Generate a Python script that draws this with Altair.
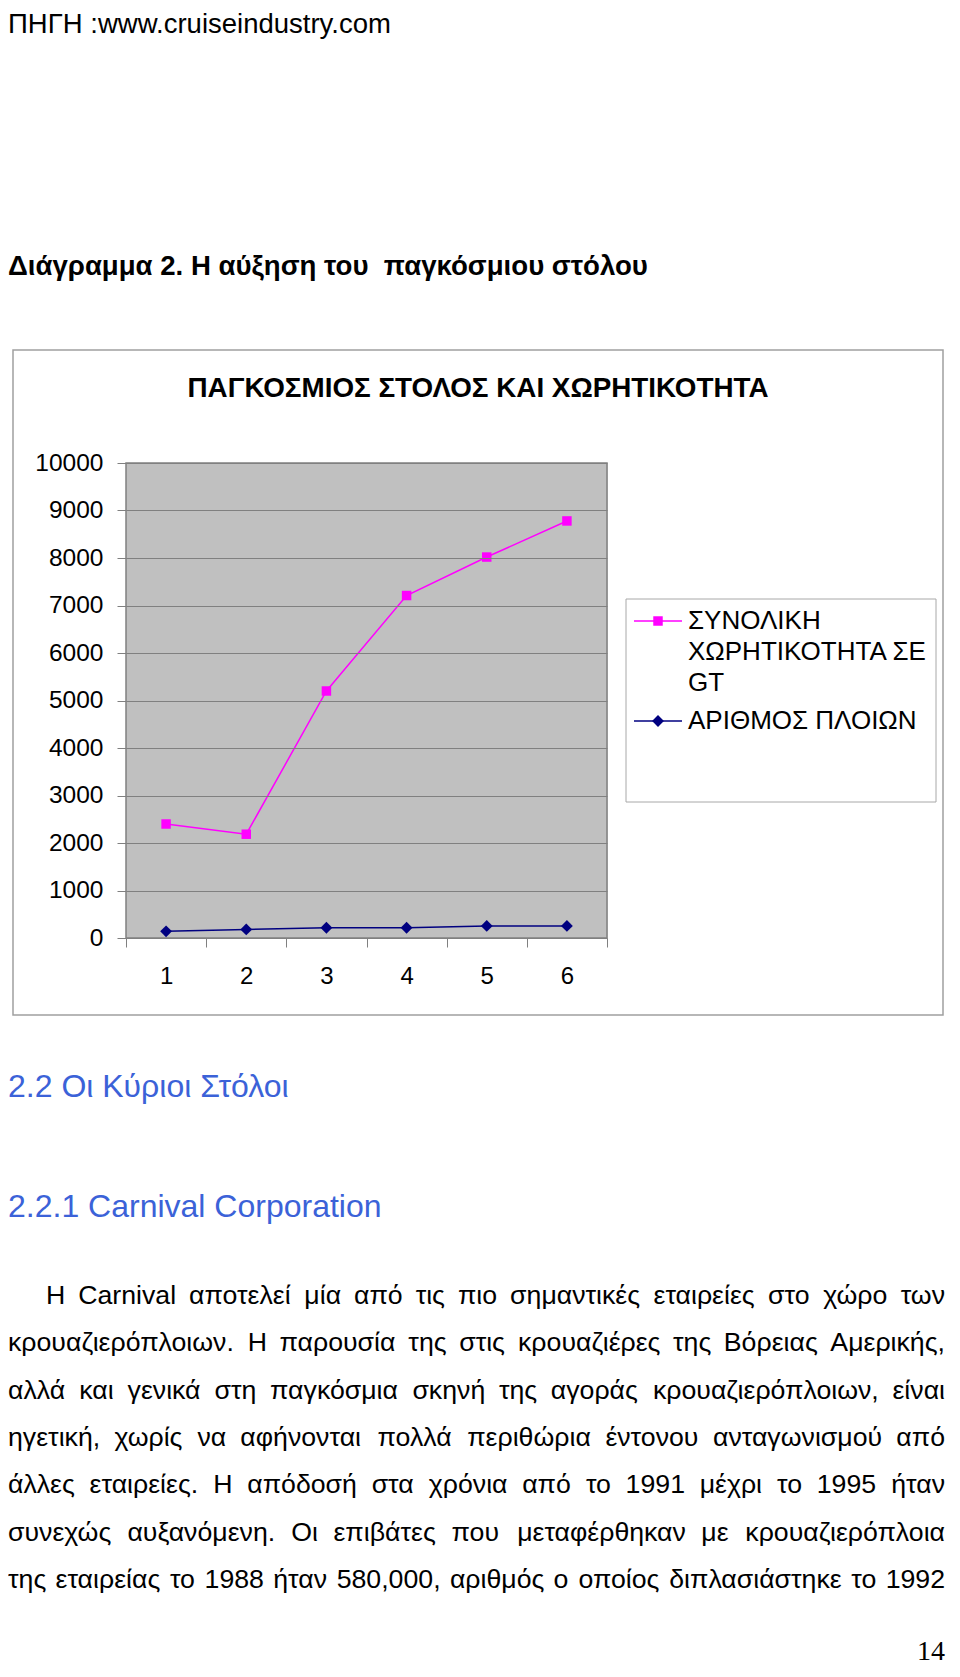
import altair as alt
import pandas as pd

# ---------------- data ----------------
categories = [1, 2, 3, 4, 5, 6]
tonnage_gt = [2400, 2185, 5200, 7210, 8020, 8780]
ship_count = [140, 180, 215, 215, 255, 255]
series_names = ["ΣΥΝΟΛΙΚΗ ΧΩΡΗΤΙΚΟΤΗΤΑ ΣΕ GT", "ΑΡΙΘΜΟΣ ΠΛΟΙΩΝ"]
legend_label_lines = [["ΣΥΝΟΛΙΚΗ", "ΧΩΡΗΤΙΚΟΤΗΤΑ ΣΕ", "GT"], ["ΑΡΙΘΜΟΣ ΠΛΟΙΩΝ"]]
y_ticks = [0, 1000, 2000, 3000, 4000, 5000, 6000, 7000, 8000, 9000, 10000]

chart_title = "ΠΑΓΚΟΣΜΙΟΣ ΣΤΟΛΟΣ ΚΑΙ ΧΩΡΗΤΙΚΟΤΗΤΑ"
source_line = "ΠΗΓΗ :www.cruiseindustry.com"
figure_caption = "Διάγραμμα 2. Η αύξηση του\u00a0 παγκόσμιου στόλου"
heading_1 = "2.2 Οι Κύριοι Στόλοι"
heading_2 = "2.2.1 Carnival Corporation"
body_lines = [
    "Η Carnival αποτελεί μία από τις πιο σημαντικές εταιρείες στο χώρο των",
    "κρουαζιερόπλοιων. Η παρουσία της στις κρουαζιέρες της Βόρειας Αμερικής,",
    "αλλά και γενικά στη παγκόσμια σκηνή της αγοράς κρουαζιερόπλοιων, είναι",
    "ηγετική, χωρίς να αφήνονται πολλά περιθώρια έντονου ανταγωνισμού από",
    "άλλες εταιρείες. Η απόδοσή στα χρόνια από το 1991 μέχρι το 1995 ήταν",
    "συνεχώς αυξανόμενη. Οι επιβάτες που μεταφέρθηκαν με κρουαζιερόπλοια",
    "της εταιρείας το 1988 ήταν 580,000, αριθμός ο οποίος διπλασιάστηκε το 1992",
]
page_number = "14"

# ---------------- styles / layout ----------------
series_colors = ["#FF00FF", "#000080"]
series_shapes = ["square", "diamond"]
series_sizes = [90, 140]
FONT = "Liberation Sans"
HEAD_BLUE = "#3B62D8"

PLOT_LEFT, PLOT_TOP = 126, 463     # page position of plot area
PLOT_W, PLOT_H = 481, 475
CANVAS_W, CANVAS_H = 944, 1654
TEXT_LEFT, TEXT_RIGHT = 8, 945


def X(px):
    return px - PLOT_LEFT


def Y(py):
    return py - PLOT_TOP


one = pd.DataFrame({"k": [0]})


def text_layer(text, x, y, size, align="left", bold=False, color="black", font=FONT):
    return alt.Chart(pd.DataFrame({"t": [text]})).mark_text(
        align=align, baseline="alphabetic", font=font, fontSize=size,
        fontWeight="bold" if bold else "normal", color=color,
    ).encode(text="t:N", x=alt.value(X(x)), y=alt.value(Y(y)))


# approximate Arial / Liberation Sans advance widths (per 1000 em)
CW = {
    " ": 278, ",": 278, ".": 278, ":": 278,
    "0": 556, "1": 556, "2": 556, "3": 556, "4": 556, "5": 556,
    "6": 556, "7": 556, "8": 556, "9": 556,
    "C": 722, "a": 556, "r": 333, "n": 556, "i": 222, "v": 500, "l": 222,
    "Η": 722, "Β": 667, "Α": 667, "Ο": 778,
    "α": 578, "ά": 578, "β": 575, "γ": 500, "δ": 557, "ε": 446, "έ": 446,
    "ζ": 441, "η": 556, "ή": 556, "θ": 556, "ι": 222, "ί": 222, "κ": 500,
    "λ": 500, "μ": 576, "ν": 500, "ξ": 448, "ο": 556, "ό": 556, "π": 690,
    "ρ": 569, "σ": 617, "ς": 482, "τ": 395, "υ": 546, "ύ": 546, "φ": 721,
    "χ": 524, "ψ": 713, "ω": 781, "ώ": 781,
}


def word_width(w, fs):
    return sum(CW.get(c, 556) for c in w) / 1000.0 * fs


def justified_line(line, left, right, baseline, fs):
    words = line.split(" ")
    widths = [word_width(w, fs) for w in words]
    n = len(words)
    gap = (right - left - sum(widths)) / (n - 1)
    layers = []
    for i, w in enumerate(words):
        if i < n / 2:
            x0 = left + sum(widths[:i]) + gap * i
            layers.append(text_layer(w, x0, baseline, fs, align="left"))
        else:
            x1 = right - sum(widths[i + 1:]) - gap * (n - 1 - i)
            layers.append(text_layer(w, x1, baseline, fs, align="right"))
    return layers


# ---------------- chart ----------------
x_enc = alt.X(
    "cat:O", title=None, bandPosition=0.5,
    scale=alt.Scale(type="band", paddingInner=0, paddingOuter=0),
    axis=alt.Axis(labelAngle=0, tickBand="extent", tickSize=9, tickColor="#808080",
                  tickWidth=1, domain=False, grid=False, labelPadding=17,
                  labelFontSize=24, labelFont=FONT, labelColor="black", zindex=1),
)
y_enc = alt.Y(
    "value:Q", title=None,
    scale=alt.Scale(domain=[0, 10000], nice=False),
    axis=alt.Axis(values=y_ticks, format="d", tickSize=9, tickColor="#808080",
                  tickWidth=1, domain=False, grid=True, gridColor="#808080",
                  gridWidth=1, labelPadding=14, labelFontSize=24.5, labelFont=FONT,
                  labelColor="black", zindex=1),
)

layers = []

# outer chart frame
layers.append(
    alt.Chart(one).mark_rect(fill="white", fillOpacity=0, stroke="#A0A0A0", strokeWidth=1.5)
    .encode(x=alt.value(X(13)), x2=alt.value(X(943)), y=alt.value(Y(350)), y2=alt.value(Y(1015)))
)
# plot area background
layers.append(
    alt.Chart(one).mark_rect(fill="#C0C0C0", stroke="#808080", strokeWidth=1.5)
    .encode(x=alt.value(0), x2=alt.value(PLOT_W), y=alt.value(0), y2=alt.value(PLOT_H))
)

for vals, color, shape, size in zip([tonnage_gt, ship_count], series_colors, series_shapes, series_sizes):
    d = pd.DataFrame({"cat": categories, "value": vals})
    layers.append(alt.Chart(d).mark_line(color=color, strokeWidth=1.5).encode(x=x_enc, y=y_enc))
    layers.append(
        alt.Chart(d).mark_point(shape=shape, filled=True, color=color, opacity=1, size=size)
        .encode(x=x_enc, y=y_enc)
    )

# legend box
layers.append(
    alt.Chart(one).mark_rect(fill="white", stroke="#A8A8A8", strokeWidth=1)
    .encode(x=alt.value(X(626)), x2=alt.value(X(936)), y=alt.value(Y(599)), y2=alt.value(Y(802)))
)
legend_line_y = [621, 721]
legend_text_y = [629, 729]
for i in range(len(series_names)):
    color, shape, size = series_colors[i], series_shapes[i], series_sizes[i]
    ly = legend_line_y[i]
    layers.append(
        alt.Chart(one).mark_rule(color=color, strokeWidth=1.5)
        .encode(x=alt.value(X(634)), x2=alt.value(X(682)), y=alt.value(Y(ly)))
    )
    layers.append(
        alt.Chart(one).mark_point(shape=shape, filled=True, color=color, opacity=1, size=size)
        .encode(x=alt.value(X(658)), y=alt.value(Y(ly)))
    )
    for j, part in enumerate(legend_label_lines[i]):
        layers.append(text_layer(part, 688, legend_text_y[i] + 31 * j, 26))

# chart title
layers.append(text_layer(chart_title, 478, 397, 27.8, align="center", bold=True))

# page texts
layers.append(text_layer(source_line, TEXT_LEFT, 33, 27.5))
layers.append(text_layer(figure_caption, TEXT_LEFT, 275, 27.6, bold=True))
layers.append(text_layer(heading_1, TEXT_LEFT, 1097, 32, color=HEAD_BLUE))
layers.append(text_layer(heading_2, TEXT_LEFT, 1217, 32, color=HEAD_BLUE))

body_baselines = [1304, 1351, 1399, 1446, 1493, 1541, 1588]
for k, line in enumerate(body_lines):
    left = 46 if k == 0 else TEXT_LEFT
    layers.extend(justified_line(line, left, TEXT_RIGHT, body_baselines[k], 26.7))

layers.append(text_layer(page_number, TEXT_RIGHT, 1660, 28, align="right", font="Liberation Serif"))

chart = (
    alt.layer(*layers)
    .properties(
        width=PLOT_W, height=PLOT_H,
        padding={"left": PLOT_LEFT - 8, "top": PLOT_TOP - 8,
                 "right": CANVAS_W - (PLOT_LEFT - 8) - PLOT_W,
                 "bottom": CANVAS_H - (PLOT_TOP - 8) - PLOT_H},
        autosize=alt.AutoSizeParams(type="none"),
    )
    .configure_view(stroke=None)
    .configure(font=FONT, background="white")
)

chart.save("out.html", embed_options={"renderer": "svg", "actions": False})
